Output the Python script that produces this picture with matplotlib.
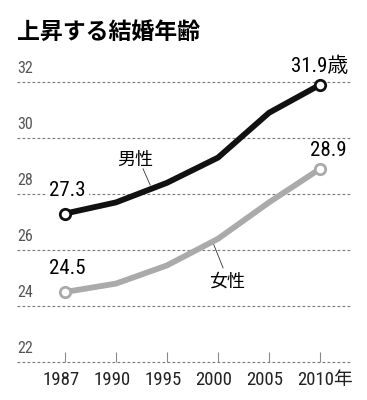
import matplotlib
matplotlib.use("Agg")
import matplotlib.pyplot as plt
from matplotlib import font_manager

years = ["1987", "1990", "1995", "2000", "2005", "2010年"]
men = [27.3, 27.7, 28.4, 29.3, 30.9, 31.9]
women = [24.5, 24.8, 25.45, 26.4, 27.7, 28.9]
yticks = [22, 24, 26, 28, 30, 32]

names = {f.name for f in font_manager.fontManager.ttflist}
narrow = "Roboto Condensed" if "Roboto Condensed" in names else "DejaVu Sans"
plt.rcParams['font.family'] = [narrow, "Noto Sans CJK JP", "DejaVu Sans"]
jp = ["Noto Sans CJK JP", "DejaVu Sans"]

fig = plt.figure(figsize=(3.67, 4.0), dpi=100)
ax = fig.add_axes([0, 0, 1, 1])
ax.set_xlim(-65 / 51, (367 - 65) / 51)
ax.set_ylim(22 - 38 / 28, 22 + 362 / 28)
ax.axis("off")

xs = list(range(len(years)))
x0, x1 = -48 / 51, (350 - 65) / 51

# grid
for t in yticks:
    ax.hlines(t, x0, x1, colors="#777777", linestyles=(0, (2.5, 2)), linewidth=0.8, zorder=1)
    ax.text(x0, t + 0.2, str(t), fontsize=11.5, color="#555555", ha="left", va="bottom")

# tick marks on the bottom line
for x in xs:
    ax.vlines(x, 22, 22.35, colors="#888888", linewidth=0.8, zorder=1)
for x, lab in zip(xs, years):
    if lab.endswith("年"):
        ax.text(x - 0.45, 21.35, lab, fontsize=13.5, color="#222222", ha="left", va="center")
    else:
        ax.text(x - 0.08, 21.35, lab, fontsize=13.5, color="#222222", ha="center", va="center")

ax.plot(xs, women, color="#aaaaaa", linewidth=4.2, solid_joinstyle="round", solid_capstyle="round", zorder=3)
ax.plot(xs, men, color="#111111", linewidth=4.2, solid_joinstyle="round", solid_capstyle="round", zorder=4)
for series, col in [(women, "#aaaaaa"), (men, "#111111")]:
    ax.plot([xs[0], xs[-1]], [series[0], series[-1]], "o", markersize=7.5,
            markerfacecolor="white", markeredgecolor=col, markeredgewidth=2, zorder=5)

# value labels
ax.text(0.05, men[0] + 0.5, f"{men[0]}", fontsize=15, ha="center", va="bottom",
        bbox=dict(facecolor="white", edgecolor="none", pad=2), zorder=2)
ax.text(0.05, women[0] + 0.5, f"{women[0]}", fontsize=15, ha="center", va="bottom", zorder=2)
ax.text(5.56, men[-1] + 0.3, f"{men[-1]}歳", fontsize=15, ha="right", va="bottom", zorder=2)
ax.text(5.16, women[-1] + 0.3, f"{women[-1]}", fontsize=15, ha="center", va="bottom", zorder=2)

# series names with leader lines
ax.text(1.37, 29.2, "男性", fontsize=13, ha="center", va="center", family=jp)
ax.plot([1.53, 1.67], [28.9, 28.32], color="#333333", linewidth=0.6)
ax.text(3.18, 24.86, "女性", fontsize=13, ha="center", va="center", family=jp)
ax.plot([2.88, 3.1], [26.36, 25.36], color="#333333", linewidth=0.6)

fig.text(17 / 367, 1 - 32 / 400, "上昇する結婚年齢", fontsize=16.5, fontweight="bold",
         ha="left", va="center", family=jp)

fig.savefig("out.png", dpi=100)
